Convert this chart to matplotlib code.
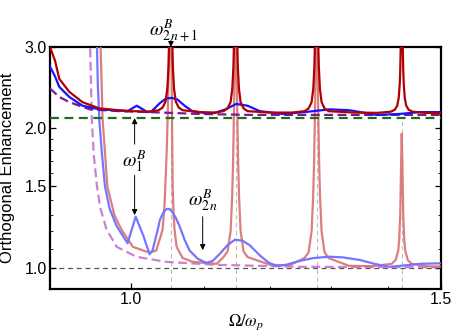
import matplotlib
matplotlib.use("Agg")
import matplotlib.pyplot as plt
from matplotlib.ticker import FixedLocator, FixedFormatter, NullFormatter

plt.rcParams["font.family"] = ["Liberation Sans", "DejaVu Sans"]
plt.rcParams["mathtext.fontset"] = "stix"

##########################
## Data (x = Omega/omega_p)

# upper set of curves (sitting above the green line)
red_top_x = [0.898, 0.900, 0.906, 0.911, 0.923, 0.939, 0.960, 0.985, 1.003, 1.025,
             1.0371, 1.0427, 1.0468, 1.0491, 1.0507, 1.0516, 1.0527, 1.0537, 1.0547, 1.0558, 1.0567, 1.0583, 1.0606, 1.0647, 1.0703,
             1.095, 1.115,
             1.129, 1.135, 1.1395, 1.14205, 1.1437, 1.14475, 1.14595, 1.147, 1.14805, 1.14925, 1.1503, 1.15195, 1.1545, 1.159, 1.165,
             1.20, 1.235,
             1.255, 1.2617, 1.2667, 1.2695, 1.2713, 1.2725, 1.2738, 1.275, 1.2762, 1.2775, 1.2787, 1.2805, 1.2833, 1.2883, 1.295,
             1.34, 1.38,
             1.4045, 1.412, 1.4166, 1.4194, 1.4213, 1.4222, 1.4231, 1.4239, 1.425, 1.4261, 1.4269, 1.4278, 1.4287, 1.4306, 1.4334, 1.438, 1.4455,
             1.47, 1.50]
red_top_y = [3.1, 3.0, 2.80, 2.56, 2.40, 2.28, 2.21, 2.19, 2.18, 2.175,
             2.19, 2.22, 2.29, 2.44, 2.72, 3.15, 4.0, 4.8, 4.0, 3.15, 2.72, 2.44, 2.29, 2.22, 2.19,
             2.17, 2.165,
             2.18, 2.21, 2.28, 2.44, 2.72, 3.15, 4.0, 4.8, 4.0, 3.15, 2.72, 2.44, 2.28, 2.21, 2.18,
             2.165, 2.165,
             2.18, 2.21, 2.28, 2.44, 2.72, 3.15, 4.0, 4.8, 4.0, 3.15, 2.72, 2.44, 2.28, 2.21, 2.18,
             2.165, 2.162,
             2.174, 2.195, 2.24, 2.33, 2.5, 2.67, 3.0, 3.4, 3.84, 3.4, 3.0, 2.67, 2.5, 2.33, 2.24, 2.195, 2.174,
             2.162, 2.16]

blue_top_x = [0.898, 0.900, 0.906, 0.911, 0.923, 0.939, 0.960, 0.979, 0.996, 1.008, 1.016, 1.022, 1.028,
              1.039, 1.047, 1.055, 1.063, 1.073, 1.084, 1.102, 1.116, 1.132, 1.148, 1.165, 1.184,
              1.220, 1.255, 1.297, 1.331, 1.379, 1.421, 1.459, 1.50]
blue_top_y = [2.78, 2.72, 2.59, 2.46, 2.34, 2.24, 2.20, 2.19, 2.18, 2.24, 2.20, 2.17, 2.18,
              2.27, 2.32, 2.33, 2.31, 2.24, 2.18, 2.16, 2.16, 2.20, 2.26, 2.24, 2.18,
              2.15, 2.17, 2.20, 2.19, 2.14, 2.15, 2.17, 2.17]

purple_top_x = [0.900, 0.911, 0.923, 0.948, 0.986, 1.025, 1.094, 1.168, 1.247, 1.50]
purple_top_y = [2.44, 2.34, 2.28, 2.20, 2.18, 2.17, 2.15, 2.14, 2.14, 2.14]

green_x = [0.9, 1.5]
green_y = [2.106, 2.106]

# lower set of curves (approaching 1)
red_low_x = [0.9595, 0.9615, 0.964, 0.970, 0.979, 0.988, 1.003, 1.025, 1.034, 1.0385, 1.0427, 1.0454, 1.0482,
             1.0495, 1.0510, 1.0523, 1.0537, 1.0550, 1.0564, 1.0578, 1.0590, 1.0619, 1.0703, 1.0845, 1.119,
             1.129, 1.135, 1.1395, 1.1418, 1.1432, 1.1447, 1.1460, 1.147, 1.148, 1.1493, 1.1508, 1.1522, 1.1545, 1.159, 1.165,
             1.20, 1.23,
             1.255, 1.2617, 1.2667, 1.2692, 1.2708, 1.2725, 1.2738, 1.275, 1.2762, 1.2775, 1.2792, 1.2808, 1.2833, 1.2883, 1.295,
             1.33, 1.37,
             1.4064, 1.4138, 1.4185, 1.4203, 1.4222, 1.4237, 1.425, 1.4263, 1.4278, 1.4297, 1.4315, 1.4362, 1.4436,
             1.47, 1.50]
red_low_y = [3.3, 3.0, 2.10, 1.50, 1.30, 1.21, 1.11, 1.078, 1.09, 1.15, 1.21, 1.38, 1.78,
             2.1, 2.7, 3.3, 3.3, 2.6, 1.5, 1.3, 1.21, 1.11, 1.05, 1.03, 1.02,
             1.055, 1.085, 1.20, 1.42, 1.69, 2.25, 2.93, 3.3, 2.93, 2.25, 1.69, 1.42, 1.20, 1.085, 1.055,
             1.015, 1.012,
             1.05, 1.08, 1.20, 1.42, 1.69, 2.25, 2.93, 3.3, 2.93, 2.25, 1.69, 1.42, 1.20, 1.08, 1.05,
             1.01, 1.008,
             1.02, 1.04, 1.09, 1.15, 1.30, 1.65, 1.95, 1.65, 1.30, 1.15, 1.09, 1.04, 1.02,
             1.008, 1.006]

blue_low_x = [0.9555, 0.957, 0.958, 0.960, 0.963, 0.967, 0.973, 0.982, 0.996, 1.0066, 1.017, 1.025,
              1.029, 1.035, 1.039, 1.044, 1.048, 1.052, 1.056, 1.061, 1.066, 1.073, 1.080, 1.092, 1.104,
              1.113, 1.123, 1.135, 1.146, 1.157, 1.168, 1.185, 1.198, 1.210, 1.225, 1.247, 1.27, 1.297,
              1.32, 1.349, 1.375, 1.403, 1.43, 1.459, 1.50]
blue_low_y = [3.4, 3.0, 2.5, 2.07, 1.78, 1.50, 1.34, 1.23, 1.13, 1.29, 1.17, 1.07,
              1.09, 1.19, 1.27, 1.32, 1.34, 1.34, 1.32, 1.28, 1.23, 1.15, 1.09, 1.045, 1.025,
              1.035, 1.07, 1.12, 1.15, 1.145, 1.12, 1.06, 1.025, 1.01, 1.015, 1.035, 1.05, 1.057,
              1.053, 1.04, 1.02, 1.005, 1.012, 1.02, 1.023]

purple_low_x = [0.9475, 0.9485, 0.9505, 0.953, 0.957, 0.961, 0.969, 0.982, 1.008, 1.048, 1.119, 1.247, 1.50]
purple_low_y = [3.4, 3.0, 2.1, 1.75, 1.50, 1.35, 1.21, 1.11, 1.056, 1.03, 1.015, 1.005, 1.003]

# resonance positions (gray dashed guides)
res_x = [1.0537, 1.147, 1.275, 1.425]

x_ticks = [1.0, 1.5]
x_minor = [1.1, 1.2, 1.3, 1.4]
y_ticks = [1.0, 1.5, 2.0, 3.0]
y_minor = [1.1, 1.2, 1.3, 1.4, 1.6, 1.7, 1.8, 1.9]

##########################
## Plot
fig = plt.figure(figsize=(4.53, 3.34), dpi=100)
ax = fig.add_axes([50 / 453, 45 / 334, 391 / 453, 242 / 334])
ax.set_xscale("log")
ax.set_yscale("log")

for xr in res_x:
    ax.plot([xr, xr], [0.9, 2.1], color="#bdbdbd", lw=0.8, ls=(0, (4, 3)), zorder=1)
ax.plot([0.9, 1.5], [1.0, 1.0], color="#555555", lw=0.9, ls=(0, (4, 3)), zorder=1)

# lower curves
ax.plot(purple_low_x, purple_low_y, color="#cc80d6", lw=1.6, ls=(0, (4, 2)), zorder=2)
ax.plot(red_low_x, red_low_y, color="#d97070", lw=1.6, alpha=0.9, zorder=3)
ax.plot(blue_low_x, blue_low_y, color="#7575ff", lw=1.6, zorder=4)

# upper curves
ax.plot(green_x, green_y, color="#1e6b1e", lw=1.6, ls=(0, (4, 2.5)), zorder=5)
ax.plot(purple_top_x, purple_top_y, color="#7d1b8c", lw=1.6, ls=(0, (4, 2)), zorder=5)
ax.plot(blue_top_x, blue_top_y, color="#1414ff", lw=1.6, zorder=6)
ax.plot(red_top_x, red_top_y, color="#b00000", lw=1.6, zorder=7)

ax.set_xlim(0.9, 1.5)
ax.set_ylim(0.9, 3.0)

ax.xaxis.set_major_locator(FixedLocator(x_ticks))
ax.xaxis.set_major_formatter(FixedFormatter(["1.0", "1.5"]))
ax.xaxis.set_minor_locator(FixedLocator(x_minor))
ax.xaxis.set_minor_formatter(NullFormatter())
ax.yaxis.set_major_locator(FixedLocator(y_ticks))
ax.yaxis.set_major_formatter(FixedFormatter(["1.0", "1.5", "2.0", "3.0"]))
ax.yaxis.set_minor_locator(FixedLocator(y_minor))
ax.yaxis.set_minor_formatter(NullFormatter())
ax.tick_params(which="both", direction="in", right=True, top=False, labelsize=11.5, pad=2.5)
ax.tick_params(which="major", length=4, width=0.9)
ax.tick_params(which="minor", length=2.5, width=0.6)
for sp in ax.spines.values():
    sp.set_linewidth(1.6)

ax.set_xlabel(r"$\Omega/\omega_p$", fontsize=12)
ax.set_ylabel("Orthogonal Enhancement", fontsize=12)
ax.xaxis.set_label_coords(0.5, -0.095)
ax.yaxis.set_label_coords(-0.09, 0.5)

# annotations
arr = dict(arrowstyle="-|>", color="k", lw=0.7, mutation_scale=8, shrinkA=0, shrinkB=0)
ax.text(1.0052, 1.70, r"$\omega_1^B$", fontsize=14, ha="center", va="center", zorder=9)
ax.annotate("", xy=(1.0052, 2.106), xytext=(1.0052, 1.85), arrowprops=arr, zorder=9)
ax.annotate("", xy=(1.0052, 1.30), xytext=(1.0052, 1.584), arrowprops=arr, zorder=9)

ax.text(1.0987, 1.40, r"$\omega_{2\,n}^B$", fontsize=14, ha="center", va="center", zorder=9)
ax.annotate("", xy=(1.0987, 1.092), xytext=(1.0987, 1.29), arrowprops=arr, zorder=9)

ax.text(1.058, 3.25, r"$\omega_{2\,n+1}^B$", fontsize=14, ha="center", va="center",
        clip_on=False, zorder=9)
ax.annotate("", xy=(1.054, 3.0), xytext=(1.054, 3.1), arrowprops=arr,
            annotation_clip=False, zorder=9)

fig.savefig("out.png", dpi=100)
